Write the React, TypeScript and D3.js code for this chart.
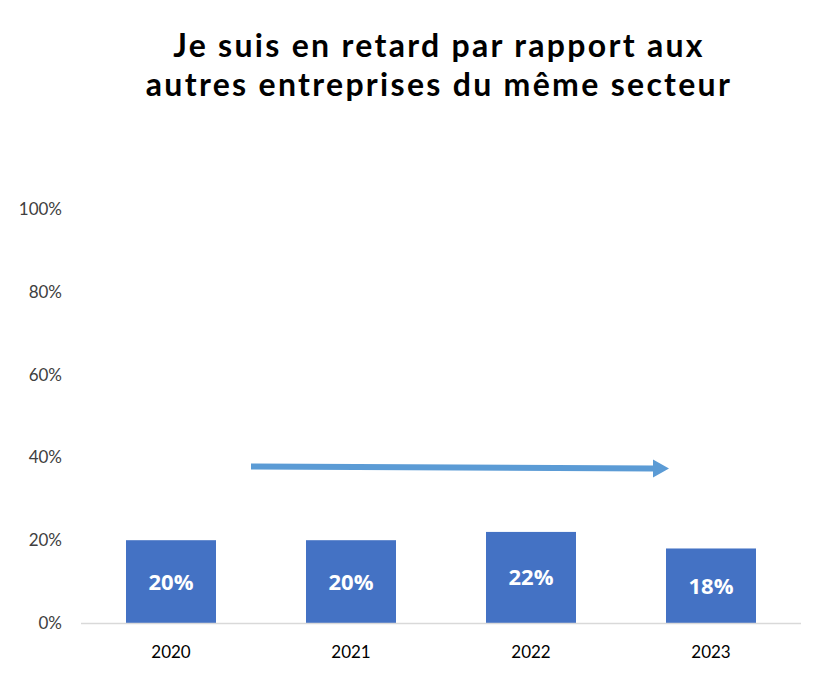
import React from "react";
import * as d3 from "d3";

const years = ["2020", "2021", "2022", "2023"];
const values = [20, 20, 22, 18];
const yTicks = [0, 20, 40, 60, 80, 100];
const titleLines = ["Je suis en retard par rapport aux", "autres entreprises du même secteur"];
const arrowFrom = { year: "2020", value: 37.8 };
const arrowTo = { year: "2023", value: 37.3 };

export default function App() {
  const W = 819, H = 677;
  const x = d3.scaleBand<string>().domain(years).range([81, 801]).paddingInner(0.5).paddingOuter(0.25);
  const y = d3.scaleLinear().domain([0, 100]).range([623, 209]);
  const bw = x.bandwidth();
  const ax1 = (x(arrowFrom.year) as number) + bw + 35;
  const ax2 = (x(arrowTo.year) as number) + bw / 2 - 42;
  const ay1 = y(arrowFrom.value);
  const ay2 = y(arrowTo.value);
  const headLen = 16, headHalf = 9, shaft = 3;
  const font = "'Open Sans', 'Noto Sans', sans-serif";
  const titleFont = "Lato, 'Open Sans', sans-serif";
  const axFont = "Lato, 'Open Sans', sans-serif";
  return (
    <svg width={W} height={H} style={{ position: "absolute", left: 0, top: 0, background: "#fff" }}>
      <rect width={W} height={H} fill="#fff" />
      {titleLines.map((t, i) => (
        <text key={i} x={439} y={57 + i * 38.6} textAnchor="middle" fontFamily={titleFont} fontWeight={700} fontSize={32} letterSpacing={2.3} fill="#000">
          {t}
        </text>
      ))}
      {yTicks.map((t) => (
        <text key={t} x={62} y={y(t)} dy="0.35em" textAnchor="end" fontFamily={axFont} fontSize={17} fill="#404040">
          {t}%
        </text>
      ))}
      {years.map((yr, i) => (
        <g key={yr}>
          <rect x={x(yr)} y={y(values[i])} width={bw} height={y(0) - y(values[i])} fill="#4472C4" />
          <text x={(x(yr) as number) + bw / 2} y={(y(values[i]) + y(0)) / 2} dy="0.36em" textAnchor="middle" fontFamily={font} fontWeight={700} fontSize={22} fill="#fff">
            {values[i]}%
          </text>
          <text x={(x(yr) as number) + bw / 2} y={652} dy="0.35em" textAnchor="middle" fontFamily={axFont} fontSize={17} fill="#000">
            {yr}
          </text>
        </g>
      ))}
      <line x1={81} x2={801} y1={y(0) + 0.5} y2={y(0) + 0.5} stroke="#d9d9d9" strokeWidth={1.5} />
      <path
        d={`M${ax1},${ay1 - shaft} L${ax2 - headLen},${ay2 - shaft} L${ax2 - headLen},${ay2 - headHalf} L${ax2},${ay2} L${ax2 - headLen},${ay2 + headHalf} L${ax2 - headLen},${ay2 + shaft} L${ax1},${ay1 + shaft} Z`}
        fill="#5B9BD5"
      />
    </svg>
  );
}
